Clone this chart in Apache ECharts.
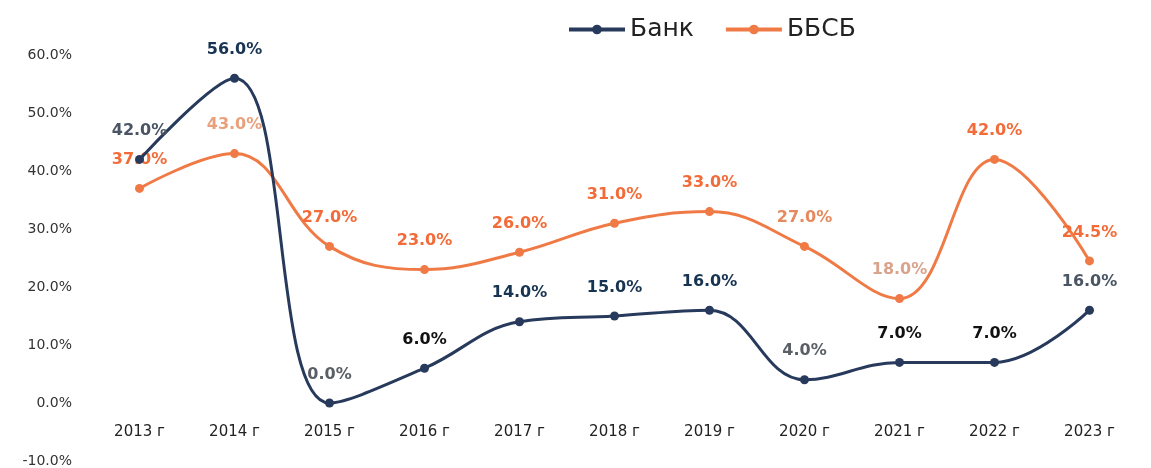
<!DOCTYPE html>
<html>
<head>
<meta charset="utf-8">
<script src="https://cdn.jsdelivr.net/npm/echarts@6/dist/echarts.min.js"></script>
<style>
html,body{margin:0;padding:0;background:#fff;}
#c{width:1151px;height:468px;}
</style>
</head>
<body>
<div id="c"></div>
<script>
const categories = ['2013 г','2014 г','2015 г','2016 г','2017 г','2018 г','2019 г','2020 г','2021 г','2022 г','2023 г'];
const bankValues = [42.0, 56.0, 0.0, 6.0, 14.0, 15.0, 16.0, 4.0, 7.0, 7.0, 16.0];
const bbsbValues = [37.0, 43.0, 27.0, 23.0, 26.0, 31.0, 33.0, 27.0, 18.0, 42.0, 24.5];
const yTicks = {min: -10, max: 60, interval: 10};

const bankLabelColors = ['#4a5563','#173452','#5a5f66','#111111','#173452','#173452','#173452','#5a5f66','#111111','#111111','#4a5664'];
const bbsbLabelColors = ['#f26b38','#e9a07d','#f26b38','#f26b38','#f26b38','#f26b38','#f26b38','#e58a5e','#d9a38c','#f26b38','#f26b38'];

const chart = echarts.init(document.getElementById('c'));
const fmt = v => v.toFixed(1) + '%';
const FONT = 'DejaVu Sans';
chart.setOption({
  backgroundColor: '#fff',
  animation: false,
  legend: {
    top: 12, left: 562,
    itemWidth: 56, itemHeight: 12, itemGap: 30,
    lineStyle: {width: 4},
    textStyle: {fontFamily: FONT, fontSize: 25, color: '#222'},
    data: ['Банк','ББСБ']
  },
  grid: {left: 92, right: 14, top: 55, bottom: 7, outerBoundsMode: 'none', containLabel: false},
  xAxis: {
    type: 'category', data: categories, position: 'bottom', offset: -58,
    axisLine: {show: false, onZero: false}, axisTick: {show: false},
    axisLabel: {fontFamily: FONT, fontSize: 15, color: '#222', margin: 22}
  },
  yAxis: {
    type: 'value', min: yTicks.min, max: yTicks.max, interval: yTicks.interval,
    splitLine: {show: false}, axisLine: {show: false}, axisTick: {show: false},
    axisLabel: {fontFamily: FONT, fontSize: 14, color: '#333', margin: 20, formatter: v => v.toFixed(1) + '%'}
  },
  series: [
    {
      name: 'Банк', type: 'line', smooth: 0.4,
      data: bankValues.map((v,i) => ({value: v, label: {color: bankLabelColors[i]}})),
      symbol: 'circle', symbolSize: 9,
      lineStyle: {width: 3, color: '#273a5c'},
      itemStyle: {color: '#273a5c'},
      label: {show: true, position: 'top', distance: 16, fontFamily: FONT, fontWeight: 'bold', fontSize: 16, formatter: p => fmt(p.value)},
      z: 3
    },
    {
      name: 'ББСБ', type: 'line', smooth: 0.4,
      data: bbsbValues.map((v,i) => ({value: v, label: {color: bbsbLabelColors[i]}})),
      symbol: 'circle', symbolSize: 9,
      lineStyle: {width: 3, color: '#f07a45'},
      itemStyle: {color: '#f07a45'},
      label: {show: true, position: 'top', distance: 16, fontFamily: FONT, fontWeight: 'bold', fontSize: 16, formatter: p => fmt(p.value)},
      z: 2
    }
  ]
});
</script>
</body>
</html>
